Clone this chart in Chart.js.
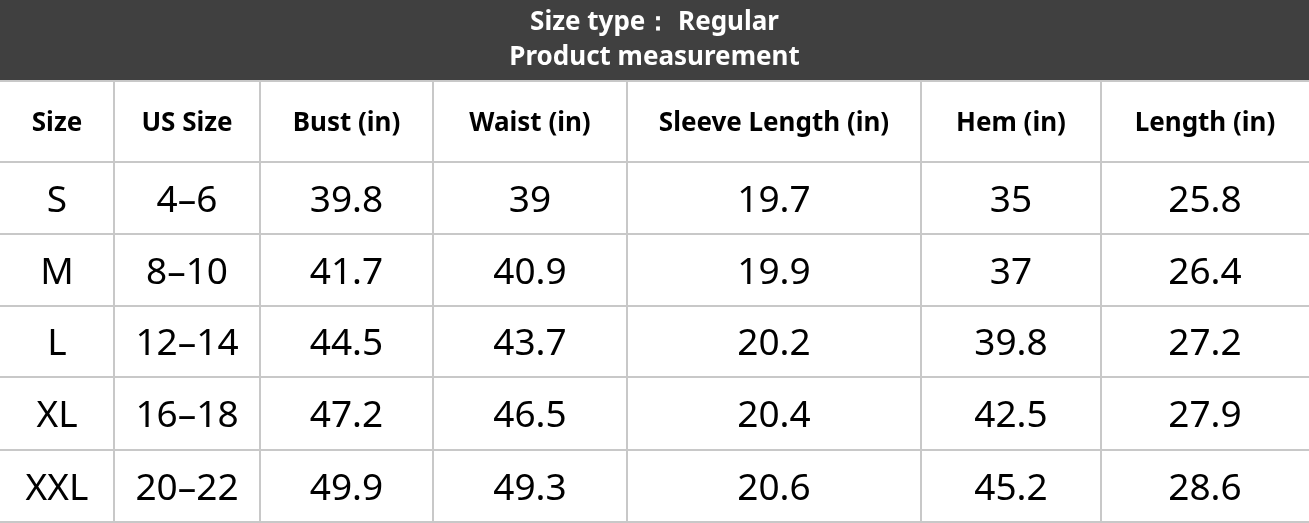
<!DOCTYPE html>
<html>
<head>
<meta charset="utf-8">
<script src="https://cdn.jsdelivr.net/npm/chart.js"></script>
<style>
  html, body { margin: 0; padding: 0; background: #fff; }
  #wrap { width: 1309px; height: 523px; position: relative; }
</style>
</head>
<body>
<div id="wrap"><canvas id="sizeChart"></canvas></div>
<script>
// table contents
const titleLines = ['Size type\uFF1A Regular', 'Product measurement'];
const headers = ['Size', 'US Size', 'Bust (in)', 'Waist (in)', 'Sleeve Length (in)', 'Hem (in)', 'Length (in)'];
const sizes = ['S', 'M', 'L', 'XL', 'XXL'];
const usSizes = ['4\u20136', '8\u201310', '12\u201314', '16\u201318', '20\u201322'];
const bust = [39.8, 41.7, 44.5, 47.2, 49.9];
const waist = [39, 40.9, 43.7, 46.5, 49.3];
const sleeve = [19.7, 19.9, 20.2, 20.4, 20.6];
const hem = [35, 37, 39.8, 42.5, 45.2];
const lengthIn = [25.8, 26.4, 27.2, 27.9, 28.6];

// layout (scale units)
const colEdges = [0, 114, 260, 433, 627, 921, 1101, 1309];
const rowEdges = [0, 81, 162, 234, 306, 377, 450, 522];
const FONT = '"Noto Sans", "Open Sans", sans-serif';

const tablePlugin = {
  id: 'sizeTable',
  afterDraw(chart) {
    const ctx = chart.ctx;
    const xs = chart.scales.x, ys = chart.scales.y;
    const px = v => xs.getPixelForValue(v);
    const py = v => ys.getPixelForValue(v);
    const columns = [sizes, usSizes, bust, waist, sleeve, hem, lengthIn];

    ctx.save();
    // title band
    ctx.fillStyle = '#404040';
    ctx.fillRect(px(0), py(rowEdges[0]), px(1309) - px(0), py(rowEdges[1]) - py(rowEdges[0]));
    ctx.fillStyle = '#fff';
    ctx.textAlign = 'center';
    ctx.textBaseline = 'middle';
    ctx.font = 'bold 26px ' + FONT;
    const mid = (colEdges[0] + colEdges[colEdges.length - 1]) / 2;
    ctx.fillText(titleLines[0], px(mid), py(23));
    ctx.fillText(titleLines[1], px(mid), py(58));

    // grid lines
    ctx.strokeStyle = '#c8c8c8';
    ctx.lineWidth = 2;
    ctx.beginPath();
    for (let r = 1; r < rowEdges.length; r++) {
      ctx.moveTo(px(0), py(rowEdges[r]));
      ctx.lineTo(px(1309), py(rowEdges[r]));
    }
    for (let c = 1; c < colEdges.length - 1; c++) {
      ctx.moveTo(px(colEdges[c]), py(rowEdges[1]));
      ctx.lineTo(px(colEdges[c]), py(rowEdges[rowEdges.length - 1]));
    }
    ctx.stroke();

    // header row
    ctx.fillStyle = '#000';
    ctx.font = 'bold 26px ' + FONT;
    headers.forEach((h, c) => {
      const cx = (colEdges[c] + colEdges[c + 1]) / 2;
      const cy = (rowEdges[1] + rowEdges[2]) / 2 + 2;
      ctx.fillText(h, px(cx), py(cy));
    });

    // body rows
    ctx.font = '37px ' + FONT;
    columns.forEach((col, c) => {
      const cx = (colEdges[c] + colEdges[c + 1]) / 2;
      col.forEach((v, r) => {
        const cy = (rowEdges[r + 2] + rowEdges[r + 3]) / 2 + 3;
        ctx.fillText(String(v), px(cx), py(cy));
      });
    });
    ctx.restore();
  }
};

new Chart(document.getElementById('sizeChart'), {
  type: 'scatter',
  data: { datasets: [{ data: [] }] },
  options: {
    responsive: true,
    maintainAspectRatio: false,
    animation: false,
    layout: { padding: 0 },
    plugins: { legend: { display: false }, tooltip: { enabled: false } },
    scales: {
      x: { type: 'linear', min: 0, max: 1309, display: false },
      y: { type: 'linear', min: 0, max: 523, reverse: true, display: false }
    }
  },
  plugins: [tablePlugin]
});
</script>
</body>
</html>
